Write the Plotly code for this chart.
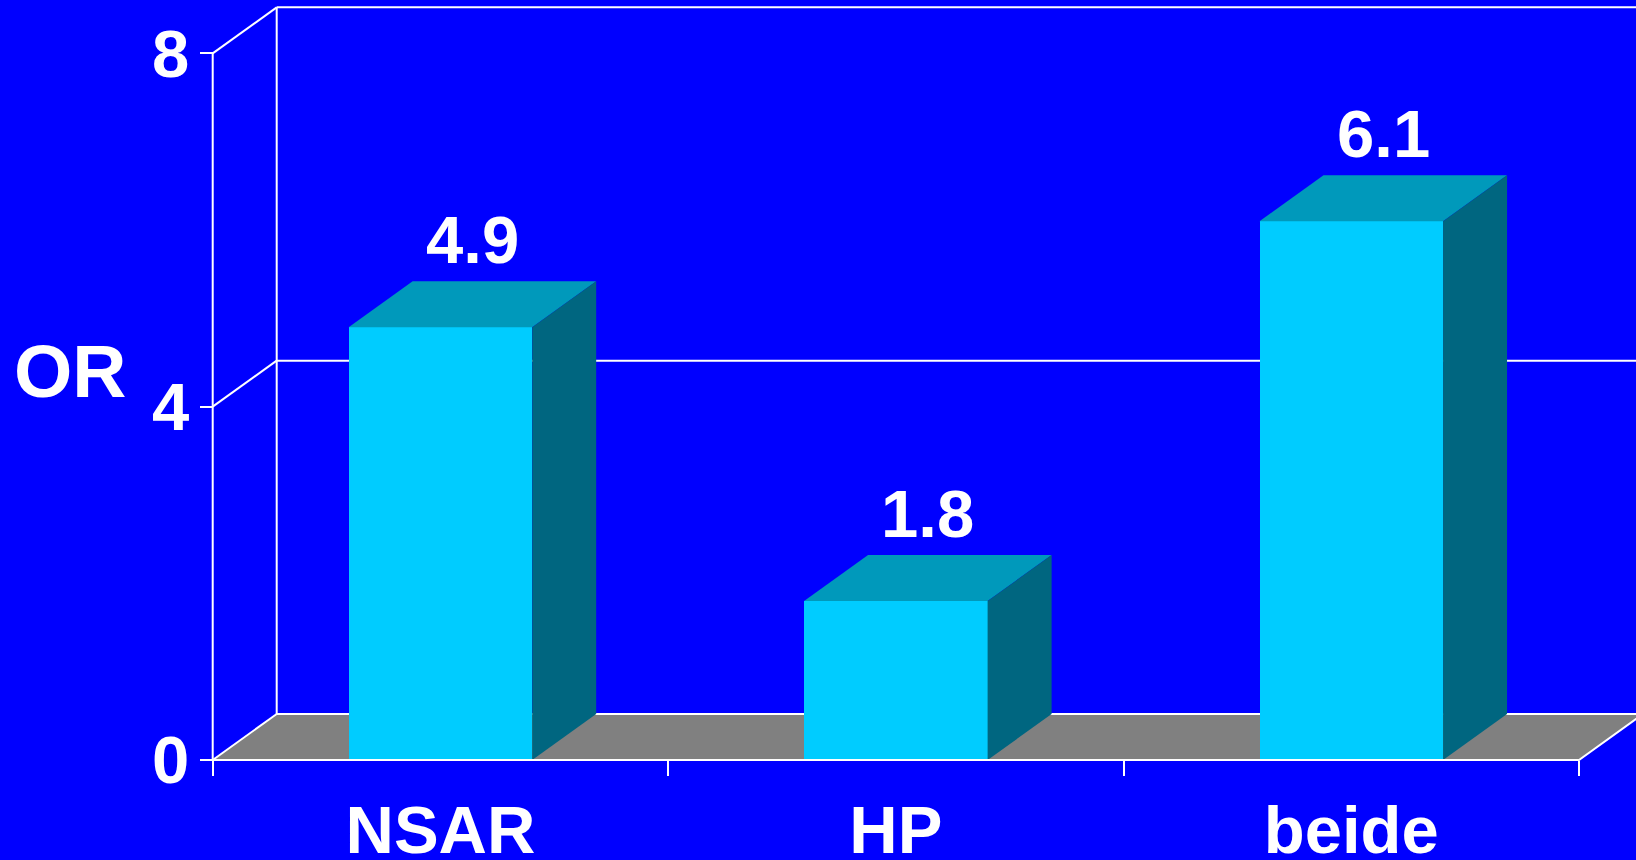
import plotly.graph_objects as go

# ---- data ----
categories = ["NSAR", "HP", "beide"]
values = [4.9, 1.8, 6.1]
value_labels = ["4.9", "1.8", "6.1"]
y_ticks = [0, 4, 8]
y_tick_labels = ["0", "4", "8"]
axis_title = "OR"

# ---- styling / geometry constants ----
W, H = 1636, 860
BG = "#0000FF"
FRONT = "#00CCFF"
TOP = "#0099BB"
SIDE = "#006680"
FLOOR = "#808080"
FONT = "Liberation Sans, Arial, sans-serif"

PX_X = 455.43          # pixels per category
PX_Y = 88.33           # pixels per OR unit
DX = 64 / PX_X         # depth offset (x, category units)
DY = 46 / PX_Y         # depth offset (y, OR units)
BAR_W = 0.403
ML, MB = 205, 92       # margins
AX_X, AX_Y = 212.7, 760  # pixel position of front axes

x0 = -0.5 - (AX_X - ML) / PX_X
x1 = x0 + (W - ML) / PX_X
y0 = -((H - MB) - AX_Y) / PX_Y
y1 = y0 + (H - MB) / PX_Y
XL, XR = -0.5, len(categories) - 0.5
YMAX = y_ticks[-1]

fig = go.Figure()

# front faces of bars
fig.add_trace(go.Bar(x=list(range(len(categories))), y=values, width=BAR_W,
                     marker=dict(color=FRONT, line=dict(width=0)),
                     hoverinfo="skip", showlegend=False))

# top and side faces
for i, v in enumerate(values):
    l, r = i - BAR_W / 2, i + BAR_W / 2
    fig.add_trace(go.Scatter(x=[l, r, r + DX, l + DX, l], y=[v, v, v + DY, v + DY, v],
                             fill="toself", fillcolor=TOP, mode="none",
                             hoverinfo="skip", showlegend=False))
    fig.add_trace(go.Scatter(x=[r, r, r + DX, r + DX, r], y=[0, v, v + DY, DY, 0],
                             fill="toself", fillcolor=SIDE, mode="none",
                             hoverinfo="skip", showlegend=False))

shapes = []
line = dict(color="white", width=2)
# floor
shapes.append(dict(type="path", xref="x", yref="y", layer="below",
                   path=f"M {XL},0 L {XR},0 L {XR + DX},{DY} L {XL + DX},{DY} Z",
                   fillcolor=FLOOR, line=dict(width=0)))
# back wall and gridlines
shapes.append(dict(type="line", xref="x", yref="y", layer="below",
                   x0=XL + DX, y0=DY, x1=XL + DX, y1=YMAX + DY, line=line))
for t in y_ticks:
    shapes.append(dict(type="line", xref="x", yref="y", layer="below",
                       x0=XL + DX, y0=t + DY, x1=x1 + 1, y1=t + DY, line=line))
    shapes.append(dict(type="line", xref="x", yref="y", layer="below",
                       x0=XL, y0=t, x1=XL + DX, y1=t + DY, line=line))
# front axis line, front floor edge
shapes.append(dict(type="line", xref="x", yref="y", layer="above",
                   x0=XL, y0=0, x1=XL, y1=YMAX, line=line))
shapes.append(dict(type="path", xref="x", yref="y", layer="above",
                   path=f"M {XL},0 L {XR},0 L {XR + DX},{DY}", line=line))

annotations = []
for i, (v, s) in enumerate(zip(values, value_labels)):
    annotations.append(dict(x=i + DX / 2, y=v + DY, xref="x", yref="y", text=s,
                            showarrow=False, yanchor="bottom", xanchor="center", yshift=2,
                            font=dict(family=FONT, size=67, color="white", weight="bold")))
annotations.append(dict(x=(70 - ML) / (W - ML), y=4.40, xref="paper", yref="y",
                        text=axis_title, showarrow=False, xanchor="center", yanchor="middle",
                        font=dict(family=FONT, size=75, color="white", weight="bold")))

fig.update_layout(
    width=W, height=H, autosize=False,
    margin=dict(l=ML, r=0, t=0, b=MB, pad=0, autoexpand=False),
    paper_bgcolor=BG, plot_bgcolor=BG,
    shapes=shapes, annotations=annotations,
    xaxis=dict(range=[x0, x1], tickvals=list(range(len(categories))), ticktext=categories,
               ticks="", showgrid=False, zeroline=False, showline=False, automargin=False,
               anchor="free", position=((H - MB) - AX_Y) / (H - MB),
               ticklabelstandoff=25,
               tickfont=dict(family=FONT, size=67, color="white", weight="bold"),
               minor=dict(tickvals=[k - 0.5 for k in range(len(categories) + 1)],
                          ticks="outside", ticklen=15, tickwidth=2, tickcolor="white",
                          showgrid=False)),
    yaxis=dict(range=[y0, y1], tickvals=y_ticks, ticktext=y_tick_labels,
               ticks="outside", ticklen=13, tickwidth=2, tickcolor="white",
               showgrid=False, zeroline=False, showline=False, automargin=False,
               anchor="free", position=(AX_X - ML) / (W - ML),
               ticklabelstandoff=-3,
               tickfont=dict(family=FONT, size=67, color="white", weight="bold")),
    bargap=0,
)

fig.write_html("out.html",
               config={"displayModeBar": False},
               post_script="document.body.style.margin='0';"
                           "document.body.style.background='#0000FF';"
                           "document.documentElement.style.overflow='hidden';")
